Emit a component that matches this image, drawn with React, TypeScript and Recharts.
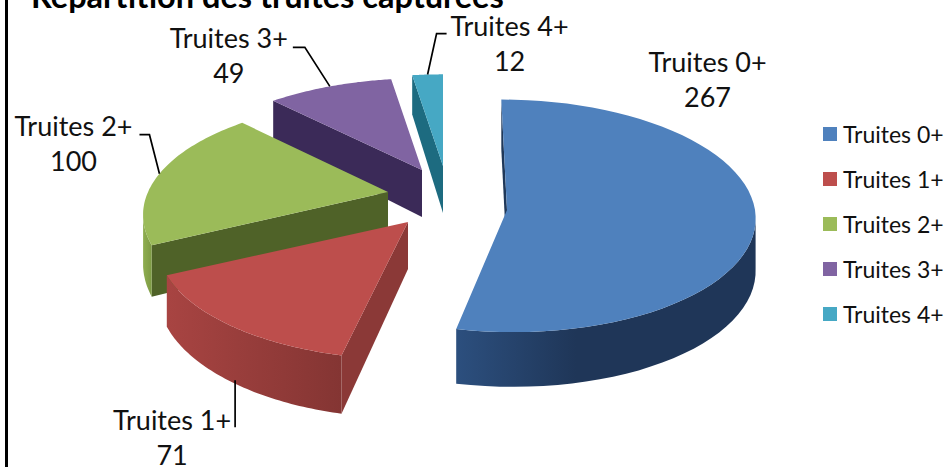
import { Legend, Pie, PieChart } from 'recharts'

const CATEGORIES = ['Truites 0+', 'Truites 1+', 'Truites 2+', 'Truites 3+', 'Truites 4+']
const COUNTS = [267, 71, 100, 49, 12]
const TITLE = 'Répartition des truites capturées'

const FONT = 'Lato, "Open Sans", sans-serif'
const WIDTH = 946
const HEIGHT = 467
const CENTER_X = 430
const CENTER_Y = 190

interface SliceStyle {
  top: string
  side: string
  rim: [string, string]
  rimStop: number
  // how far the slice is pulled out of the pie
  offset: [number, number]
  // fake 3d ellipse: half axes, perspective, lean, wall height
  a: number
  b: number
  p: number
  lean: number
  depth: number
}

const BACK = { a: 245, b: 110, p: 0.2, lean: 0, depth: 47, rimStop: 1 }

const STYLES: Record<string, SliceStyle> = {
  'Truites 0+': {
    top: '#4f81bd',
    side: '#1f3859',
    rim: ['#2c4f7e', '#1f3658'],
    rimStop: 0.4,
    offset: [77, 20],
    a: 248,
    b: 116,
    p: 0.05,
    lean: 6,
    depth: 52,
  },
  'Truites 1+': { ...BACK, top: '#bd4e4c', side: '#8b3937', rim: ['#a84442', '#843533'], offset: [-22, 32] },
  'Truites 2+': { ...BACK, a: 240, top: '#9bbb59', side: '#4f6228', rim: ['#8fae50', '#7d9a44'], offset: [-42, 2] },
  'Truites 3+': { ...BACK, top: '#8064a2', side: '#3b2a58', rim: ['#3b2a58', '#3b2a58'], offset: [-8, -20] },
  'Truites 4+': { ...BACK, top: '#46a8c4', side: '#1d6b80', rim: ['#1d6b80', '#1d6b80'], offset: [13, -24] },
}

// label text and leader line, relative to the point on the rim at mid angle
const LABELS: Record<string, { text: [number, number]; leader: [number, number][]; wall?: boolean }> = {
  'Truites 0+': { text: [-48, -161], leader: [] },
  'Truites 1+': { text: [-56, 39], wall: true, leader: [[7, 0], [7, 47]] },
  'Truites 2+': { text: [-86, -48], leader: [[0, 0], [-10, -39], [-20, -39]] },
  'Truites 3+': { text: [-101, -49], leader: [[0, 0], [-25, -39], [-37, -39]] },
  'Truites 4+': { text: [82, -49], leader: [[0, 0], [9, -41], [19, -41]] },
}

const RAD = Math.PI / 180

// clock angle (0 = top, clockwise) to screen position relative to the slice apex
function project(style: SliceStyle, clock: number): [number, number] {
  const v = -Math.cos(clock * RAD)
  const s = 1 / (1 - style.p * v)
  return [(style.a * Math.sin(clock * RAD) + style.lean * v) * s, style.b * v * s]
}

function wallDepth(style: SliceStyle, clock: number) {
  const v = -Math.cos(clock * RAD)
  return style.depth / (1 - style.p * v)
}

function toPath(points: [number, number][]) {
  return points.map((p, i) => `${i ? 'L' : 'M'}${p[0].toFixed(1)} ${p[1].toFixed(1)}`).join(' ') + ' Z'
}

function Slice3D(props: any) {
  const { cx, cy, startAngle, endAngle, name, index } = props
  const style = STYLES[name]
  const ox = cx + style.offset[0]
  const oy = cy + style.offset[1]
  const from = 90 - endAngle
  const to = 90 - startAngle
  const steps = 60

  const rim: { x: number; y: number; d: number }[] = []
  for (let i = 0; i <= steps; i++) {
    const clock = from + ((to - from) * i) / steps
    const [dx, dy] = project(style, clock)
    rim.push({ x: ox + dx, y: oy + dy, d: wallDepth(style, clock) })
  }

  const topFace: [number, number][] = [[ox, oy], ...rim.map((r) => [r.x, r.y] as [number, number])]

  // walls only show where the outline runs right to left
  const walls: { path: string; fill: string }[] = []
  const first = rim[0]
  if (first.x < ox) {
    walls.push({
      path: toPath([[ox, oy], [first.x, first.y], [first.x, first.y + first.d], [ox, oy + style.depth]]),
      fill: style.side,
    })
  }
  const front = rim.filter((r, i) => (i > 0 && r.x < rim[i - 1].x) || (i < steps && rim[i + 1].x < r.x))
  if (front.length > 1) {
    const upper = front.map((r) => [r.x, r.y] as [number, number])
    const lower = [...front].reverse().map((r) => [r.x, r.y + r.d] as [number, number])
    walls.push({ path: toPath([...upper, ...lower]), fill: `url(#rim-${index})` })
  }

  return (
    <g>
      <defs>
        <linearGradient id={`rim-${index}`} gradientUnits="objectBoundingBox" x1="0" y1="0" x2="1" y2="0">
          <stop offset="0" stopColor={style.rim[0]} />
          <stop offset={style.rimStop} stopColor={style.rim[1]} />
        </linearGradient>
      </defs>
      {walls.map((w) => (
        <path key={w.path} d={w.path} fill={w.fill} />
      ))}
      <path d={toPath(topFace)} fill={style.top} />
    </g>
  )
}

function renderLabel(props: any) {
  const { cx, cy, midAngle, name, value } = props
  const style = STYLES[name]
  const layout = LABELS[name]
  const clock = 90 - midAngle
  const [dx, dy] = project(style, clock)
  const ax = cx + style.offset[0] + dx
  const ay = cy + style.offset[1] + dy + (layout.wall ? wallDepth(style, clock) : 0)
  const tx = ax + layout.text[0]
  const ty = ay + layout.text[1]
  return (
    <g key={name}>
      {layout.leader.length > 0 && (
        <polyline
          points={layout.leader.map((p) => `${ax + p[0]},${ay + p[1]}`).join(' ')}
          fill="none"
          stroke="#000"
          strokeWidth={1.7}
        />
      )}
      <text x={tx} y={ty} textAnchor="middle" dominantBaseline="central" fontFamily={FONT} fontSize={27} fill="#111">
        {name}
      </text>
      <text x={tx} y={ty + 35} textAnchor="middle" dominantBaseline="central" fontFamily={FONT} fontSize={27} fill="#111">
        {value}
      </text>
    </g>
  )
}

function LegendList() {
  return (
    <div style={{ fontFamily: FONT, fontSize: 23, color: '#111' }}>
      {CATEGORIES.map((name) => (
        <div key={name} style={{ display: 'flex', alignItems: 'center', height: 44.8 }}>
          <span style={{ width: 14, height: 14, background: STYLES[name].top, marginRight: 6 }} />
          <span style={{ whiteSpace: 'nowrap' }}>{name}</span>
        </div>
      ))}
    </div>
  )
}

export default function App() {
  // drawn back to front, so the pie runs counter-clockwise from the smallest slice
  const data = CATEGORIES.map((name, i) => ({ name, value: COUNTS[i], fill: STYLES[name].top })).reverse()

  return (
    <div style={{ position: 'absolute', left: 0, top: 0, width: WIDTH, height: HEIGHT, overflow: 'hidden', background: '#fff' }}>
      <div style={{ position: 'absolute', left: 5, top: 0, width: 3, height: HEIGHT, background: '#000' }} />
      <PieChart width={WIDTH} height={HEIGHT} margin={{ top: 0, right: 0, bottom: 0, left: 0 }}>
        <text x={31} y={8} fontFamily={FONT} fontSize={32.5} fontWeight={700} fill="#000">
          {TITLE}
        </text>
        <Pie
          data={data}
          dataKey="value"
          nameKey="name"
          cx={CENTER_X}
          cy={CENTER_Y}
          outerRadius={110}
          startAngle={90}
          endAngle={450}
          shape={Slice3D}
          label={renderLabel}
          labelLine={false}
          stroke="none"
          isAnimationActive={false}
        />
        <Legend
          layout="vertical"
          align="right"
          verticalAlign="top"
          wrapperStyle={{ left: 823, top: 112, width: 130 }}
          content={LegendList}
        />
      </PieChart>
    </div>
  )
}
